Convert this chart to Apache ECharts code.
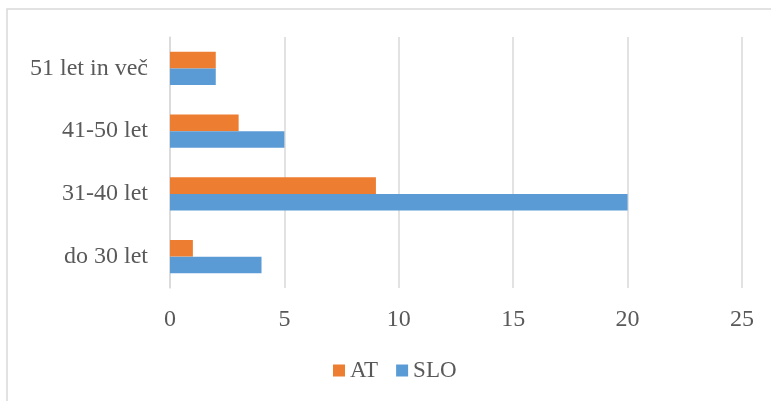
<!DOCTYPE html>
<html>
<head>
<meta charset="utf-8">
<script src="https://cdn.jsdelivr.net/npm/echarts@6/dist/echarts.min.js"></script>
<style>
  html, body { margin: 0; padding: 0; background: #ffffff; }
  #chart { width: 771px; height: 401px; }
</style>
</head>
<body>
<div id="chart"></div>
<script>
// Age groups (bottom to top) and respondent counts per country
const categories = ['do 30 let', '31-40 let', '41-50 let', '51 let in več'];
const valuesAT = [1, 9, 3, 2];
const valuesSLO = [4, 20, 5, 2];
const seriesNames = ['AT', 'SLO'];
const tickValues = [0, 5, 10, 15, 20, 25];

const FONT = '"Liberation Serif", "Times New Roman", serif';
const TEXT_COLOR = '#595959';
const GRID_COLOR = '#d9d9d9';

const chart = echarts.init(document.getElementById('chart'), null, { renderer: 'canvas' });

chart.setOption({
  animation: false,
  backgroundColor: '#ffffff',
  graphic: [{
    type: 'rect',
    shape: { x: 7, y: 9, width: 800, height: 500 },
    style: { fill: 'none', stroke: GRID_COLOR, lineWidth: 1.5 },
    silent: true,
    z: -1
  }],
  legend: {
    data: seriesNames,
    left: 333,
    top: 359,
    padding: 0,
    itemWidth: 12,
    itemHeight: 12,
    itemGap: 18,
    icon: 'rect',
    textStyle: { fontFamily: FONT, fontSize: 23, color: TEXT_COLOR }
  },
  grid: { left: 170, right: 29, top: 37, bottom: 113, containLabel: false },
  xAxis: {
    type: 'value',
    min: tickValues[0],
    max: tickValues[tickValues.length - 1],
    interval: 5,
    axisLine: { show: false },
    axisTick: { show: false },
    splitLine: { show: true, lineStyle: { color: GRID_COLOR, width: 1.5 } },
    axisLabel: { fontFamily: FONT, fontSize: 24, color: TEXT_COLOR, margin: 20 }
  },
  yAxis: {
    type: 'category',
    data: categories,
    axisLine: { show: true, lineStyle: { color: GRID_COLOR, width: 1.5 } },
    axisTick: { show: false },
    axisLabel: { fontFamily: FONT, fontSize: 24, color: TEXT_COLOR, margin: 22 }
  },
  series: [
    {
      name: 'AT',
      type: 'bar',
      data: valuesAT,
      itemStyle: { color: '#ed7d31' },
      barGap: '0%',
      barCategoryGap: '47%'
    },
    {
      name: 'SLO',
      type: 'bar',
      data: valuesSLO,
      itemStyle: { color: '#5b9bd5' },
      barGap: '0%',
      barCategoryGap: '47%'
    }
  ]
});
</script>
</body>
</html>
